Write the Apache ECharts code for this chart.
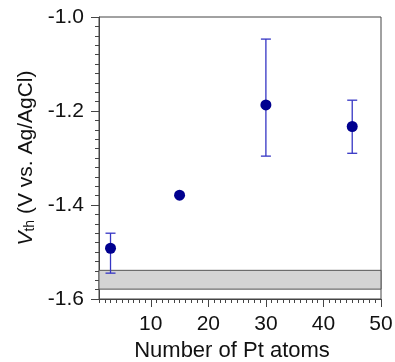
<!DOCTYPE html>
<html>
<head>
<meta charset="utf-8">
<script src="https://cdn.jsdelivr.net/npm/echarts@6/dist/echarts.min.js"></script>
<style>html,body{margin:0;padding:0;background:#fff}#c{width:395px;height:362px}</style>
</head>
<body>
<div id="c"></div>
<script>
const xValues = [3, 15, 30, 45];
const yValues = [-1.492, -1.379, -1.187, -1.233];
const errLow = [-1.545, -1.379, -1.296, -1.290];
const errHigh = [-1.460, -1.379, -1.047, -1.177];
const bandLow = -1.579;
const bandHigh = -1.539;
const xTickLabels = [10, 20, 30, 40, 50];
const xMinorTicks = [1,2,3,4,5,6,7,8,9,11,12,13,14,15,16,17,18,19,21,22,23,24,25,26,27,28,29,31,32,33,34,35,36,37,38,39,41,42,43,44,45,46,47,48,49];

const font = 'Liberation Sans, Arial, sans-serif';
const chart = echarts.init(document.getElementById('c'), null, {renderer: 'canvas'});

const points = xValues.map((x, i) => [x, yValues[i]]);
const errData = xValues.map((x, i) => [x, errLow[i], errHigh[i]]);

chart.setOption({
  animation: false,
  backgroundColor: '#fff',
  grid: {left: 99, right: 14, top: 17, bottom: 63, outerBoundsMode: 'none', containLabel: false, show: true, borderColor: '#444', borderWidth: 1, backgroundColor: 'transparent'},
  xAxis: [{
    type: 'value', min: 1, max: 50, position: 'bottom',
    name: 'Number of Pt atoms', nameLocation: 'middle', nameGap: 40,
    nameTextStyle: {fontFamily: font, fontSize: 22, color: '#111', padding: [0, 16, 0, 0]},
    axisLine: {lineStyle: {color: '#444', width: 1}},
    axisTick: {show: true, length: 8, customValues: xTickLabels, lineStyle: {color: '#444'}},
    axisLabel: {customValues: xTickLabels, fontFamily: font, fontSize: 21, color: '#111', margin: 15},
    splitLine: {show: false}
  }, {
    type: 'value', min: 1, max: 50, position: 'bottom', offset: 0,
    axisLine: {show: false},
    axisTick: {show: true, length: 4, customValues: xMinorTicks, lineStyle: {color: '#444'}},
    axisLabel: {show: false},
    splitLine: {show: false}
  }],
  yAxis: {
    type: 'value', min: -1.6, max: -1.0, interval: 0.2,
    name: '{i|V}{s|th} (V vs. Ag/AgCl)', nameLocation: 'middle', nameGap: 62, nameRotate: 90,
    nameTextStyle: {
      fontFamily: font, fontSize: 21, color: '#111',
      rich: {
        i: {fontFamily: font, fontSize: 21, fontStyle: 'italic', color: '#111'},
        s: {fontFamily: font, fontSize: 14, color: '#111', verticalAlign: 'bottom', padding: [8, 0, 0, 0]}
      }
    },
    axisLine: {show: true, lineStyle: {color: '#444', width: 1}},
    axisTick: {show: true, length: 8, lineStyle: {color: '#444'}},
    minorTick: {show: true, splitNumber: 10, length: 4, lineStyle: {color: '#444'}},
    axisLabel: {fontFamily: font, fontSize: 21, color: '#111', margin: 15, formatter: v => v.toFixed(1)},
    splitLine: {show: false}
  },
  series: [{
    type: 'line', data: [], xAxisIndex: 0,
    markArea: {
      silent: true,
      itemStyle: {color: '#d4d4d4', borderColor: '#555', borderWidth: 1},
      data: [[{yAxis: bandLow, xAxis: 'min'}, {yAxis: bandHigh, xAxis: 'max'}]]
    }
  }, {
    type: 'custom', xAxisIndex: 0, data: errData, z: 3,
    renderItem: (params, api) => {
      const x = api.value(0);
      const lo = api.coord([x, api.value(1)]);
      const hi = api.coord([x, api.value(2)]);
      if (Math.abs(lo[1] - hi[1]) < 1) return {type: 'group', children: []};
      const w = 5;
      const st = {stroke: '#3535c4', lineWidth: 1.3};
      return {type: 'group', children: [
        {type: 'line', shape: {x1: lo[0], y1: lo[1], x2: hi[0], y2: hi[1]}, style: st},
        {type: 'line', shape: {x1: lo[0] - w, y1: lo[1], x2: lo[0] + w, y2: lo[1]}, style: st},
        {type: 'line', shape: {x1: hi[0] - w, y1: hi[1], x2: hi[0] + w, y2: hi[1]}, style: st}
      ]};
    }
  }, {
    type: 'scatter', xAxisIndex: 0, data: points, symbol: 'circle', symbolSize: 11, z: 5,
    itemStyle: {color: '#00008f', opacity: 1}
  }]
});
</script>
</body>
</html>
